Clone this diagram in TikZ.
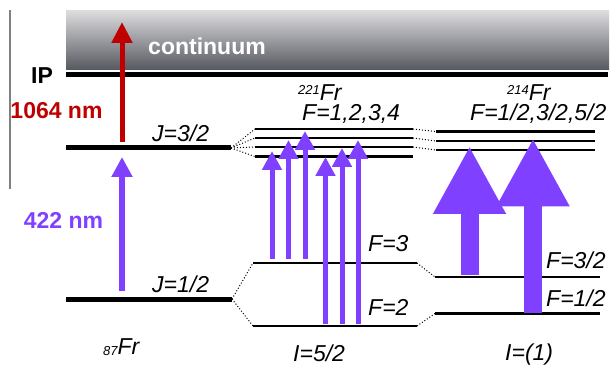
\documentclass[tikz,border=0pt]{standalone}
\usepackage{fontspec}
\setmainfont{Liberation Sans}
\usetikzlibrary{arrows.meta}
\definecolor{vio}{RGB}{128,64,255}
\definecolor{lasred}{RGB}{192,0,0}
\definecolor{bandtop}{RGB}{220,220,222}
\definecolor{bandbot}{RGB}{86,88,96}
\begin{document}
\begin{tikzpicture}[x=1pt,y=-1pt,
  lvl/.style={line width=5pt},
  hfs/.style={line width=2.6pt},
  mix/.style={dotted, line width=1pt},
  thinarr/.style={line width=5pt, -{Triangle[width=19pt,length=19pt]}},
  bigarr/.style={vio, line width=18pt, -{Triangle[width=68pt,length=68pt]}},
  lab/.style={font=\fontsize{23}{27}\selectfont\itshape, inner sep=0pt, anchor=base west},
  blab/.style={font=\fontsize{23}{27}\selectfont\bfseries, inner sep=0pt, anchor=base},
]
\useasboundingbox (0,0) rectangle (616,366);
% continuum band
\shade[top color=bandtop, bottom color=bandbot] (66,11) rectangle (609,70);
\coordinate (vt) at (10,10); \coordinate (vb) at (10,189);
\draw[gray, line width=1.5pt] (vt) -- (vb);
% fine-structure levels
\coordinate (IPl) at (66,74.5); \coordinate (IPr) at (608,74.5);
\coordinate (Jhl) at (66,148); \coordinate (Jhr) at (231,148);
\coordinate (Jll) at (66,299); \coordinate (Jlr) at (232,299);
\draw[lvl] (IPl) -- (IPr);
\draw[lvl] (Jhl) -- (Jhr);
\draw[lvl] (Jll) -- (Jlr);
% 221Fr upper levels
\foreach \i/\y in {1/156.5,2/147,3/138,4/129}{
  \coordinate (a\i l) at (255,\y); \coordinate (a\i r) at (413,\y);
  \draw[hfs] (a\i l) -- (a\i r);
  \draw[mix] (Jhr) -- (a\i l);
}
% 214Fr upper levels
\foreach \i/\y in {2/150,3/141,4/131.5}{
  \coordinate (b\i l) at (436,\y); \coordinate (b\i r) at (595,\y);
  \draw[hfs] (b\i l) -- (b\i r);
  \draw[mix] (a\i r) -- (b\i l);
}
% lower hyperfine levels
\coordinate (F3l) at (253,263); \coordinate (F3r) at (417,263);
\coordinate (F2l) at (253,326); \coordinate (F2r) at (417,326);
\coordinate (G3l) at (435,277); \coordinate (G3r) at (600,277);
\coordinate (G1l) at (435,313.5); \coordinate (G1r) at (600,313.5);
\draw[hfs] (F3l) -- (F3r);
\draw[hfs] (F2l) -- (F2r);
\draw[hfs] (G3l) -- (G3r);
\draw[hfs] (G1l) -- (G1r);
\draw[mix] (Jlr) -- (F3l);
\draw[mix] (Jlr) -- (F2l);
\draw[mix] (F3r) -- (G3l);
\draw[mix] (F2r) -- (G1l);
% laser arrows 87Fr
\coordinate (rs) at (122,142); \coordinate (re) at (122,22);
\draw[lasred, line width=5pt, -{Triangle[width=20pt,length=21pt]}] (rs) -- (re);
\coordinate (ps) at (122,291); \coordinate (pe) at (122,157);
\draw[vio, line width=5.5pt, -{Triangle[width=20pt,length=20pt]}] (ps) -- (pe);
% 221Fr transitions
\foreach \n/\x/\ys/\ye in {1/272/259/151, 2/288.5/259/140, 3/305/259/131,
                          4/325.5/323.5/157, 5/342/323.5/148, 6/358/323.5/140}{
  \coordinate (t\n s) at (\x,\ys); \coordinate (t\n e) at (\x,\ye);
  \draw[vio, thinarr] (t\n s) -- (t\n e);
}
% 214Fr transitions
\coordinate (uAs) at (469.5,275); \coordinate (uAe) at (469.5,146);
\coordinate (uBs) at (533,312.7); \coordinate (uBe) at (533,138.3);
\draw[bigarr] (uAs) -- (uAe);
\draw[bigarr] (uBs) -- (uBe);
% labels
\node[blab, text=white] (cont) at (207,55) {continuum};
\node[blab] (ip) at (42,83.3) {IP};
\node[blab, text=lasred] (l1064) at (56.5,119) {1064 nm};
\node[blab, text=vio] (l422) at (63.5,228.3) {422 nm};
\node[lab] (J3) at (152,142) {J=3/2};
\node[lab] (J1) at (152,292) {J=1/2};
\node[lab] (iso221) at (298,101) {\raisebox{6.5pt}{\fontsize{13}{13}\selectfont 221}Fr};
\node[lab] (iso214) at (507,101) {\raisebox{6.5pt}{\fontsize{13}{13}\selectfont 214}Fr};
\node[lab] (Fa) at (302,120.5) {F=1,2,3,4};
\node[lab] (Fb) at (470,120.5) {F=1/2,3/2,5/2};
\node[lab] (F3t) at (368,252) {F=3};
\node[lab] (F2t) at (368,316) {F=2};
\node[lab] (G3t) at (546,269) {F=3/2};
\node[lab] (G1t) at (546,306) {F=1/2};
\node[lab] (iso87) at (103,354) {\raisebox{-1pt}{\fontsize{13}{13}\selectfont 87}Fr};
\node[lab] (I52) at (293,361) {I=5/2};
\node[lab] (I1) at (505,360) {I=(1)};
\end{tikzpicture}
\end{document}
